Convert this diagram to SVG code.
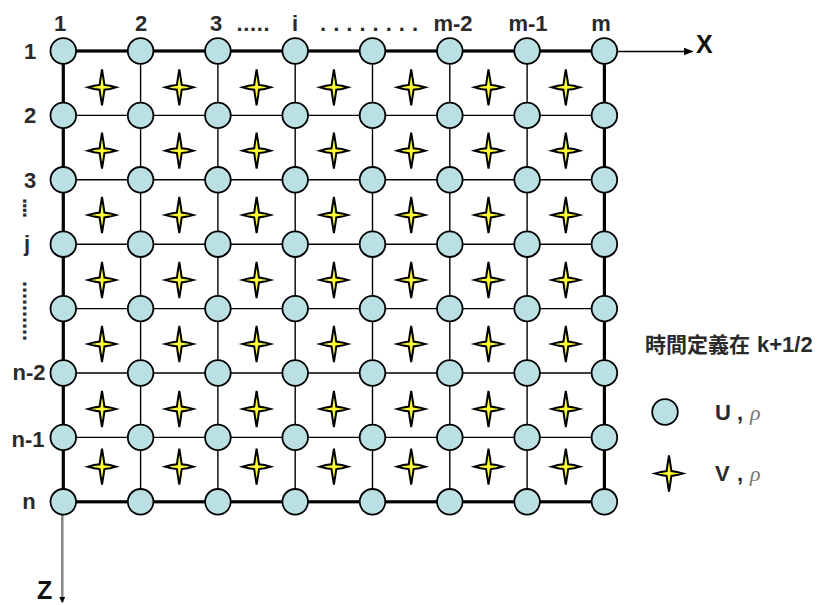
<svg xmlns="http://www.w3.org/2000/svg" xmlns:xlink="http://www.w3.org/1999/xlink" width="835" height="605" viewBox="0 0 835 605">
  <style>
    .lbl { font-family: "Liberation Sans", Arial, sans-serif; font-weight: bold; font-size: 22px; fill: #2a2a2a; }
    .mid { text-anchor: middle; }
    .axis { font-family: "Liberation Sans", Arial, sans-serif; font-weight: bold; font-size: 25px; fill: #111; }
    .cjk { font-family: "Liberation Sans", "Noto Sans CJK TC", sans-serif; font-weight: bold; font-size: 21px; fill: #2a2a2a; }
    .rho { font-family: "Liberation Serif", "DejaVu Serif", serif; font-style: italic; font-weight: normal; fill: #777; }
    .grid { stroke: #000; stroke-width: 1.4; fill: none; }
    .edge { stroke: #000; stroke-width: 3.2; fill: none; }
  </style>
  <defs>
    <!-- U, rho grid point -->
    <g id="unode">
      <circle r="12.8" fill="#bae0e3" stroke="#000" stroke-width="1.8"/>
    </g>
    <!-- V, rho half-cell point: four-pointed star -->
    <g id="vnode">
      <path d="M0,-18 L1.6,-8 L2.4,-2.4 L8,-1.6 L14,0 L8,1.6 L2.4,2.4 L1.6,8 L0,18 L-1.6,8 L-2.4,2.4 L-8,1.6 L-14,0 L-8,-1.6 L-2.4,-2.4 L-1.6,-8 Z" fill="#ffff33" stroke="#000" stroke-width="2" stroke-linejoin="miter"/>
    </g>
    <marker id="arrowX" markerWidth="10" markerHeight="8" refX="9" refY="4" orient="auto" markerUnits="userSpaceOnUse">
      <path d="M0,0 L10,4 L0,8 Z" fill="#000"/>
    </marker>
    <marker id="arrowZ" markerWidth="6" markerHeight="6" refX="5" refY="3" orient="auto" markerUnits="userSpaceOnUse">
      <path d="M0,0 L6,3 L0,6 Z" fill="#000"/>
    </marker>
  </defs>

  <rect width="835" height="605" fill="#fff"/>

  <!-- connectors: grid lines, boundary and axes -->
  <g id="connectors">
    <g class="grid">
      <line x1="63.3" y1="115.4" x2="604.4" y2="115.4"/>
      <line x1="63.3" y1="179.8" x2="604.4" y2="179.8"/>
      <line x1="63.3" y1="244.2" x2="604.4" y2="244.2"/>
      <line x1="63.3" y1="308.6" x2="604.4" y2="308.6"/>
      <line x1="63.3" y1="373" x2="604.4" y2="373"/>
      <line x1="63.3" y1="437.4" x2="604.4" y2="437.4"/>
      <line x1="140.6" y1="51" x2="140.6" y2="501.8"/>
      <line x1="217.9" y1="51" x2="217.9" y2="501.8"/>
      <line x1="295.2" y1="51" x2="295.2" y2="501.8"/>
      <line x1="372.5" y1="51" x2="372.5" y2="501.8"/>
      <line x1="449.8" y1="51" x2="449.8" y2="501.8"/>
      <line x1="527.1" y1="51" x2="527.1" y2="501.8"/>
    </g>
    <rect class="edge" x="63.3" y="51" width="541.1" height="450.8"/>
    <line x1="604.4" y1="51.5" x2="692.5" y2="51.5" stroke="#000" stroke-width="1.6" marker-end="url(#arrowX)"/>
    <line x1="62.3" y1="501.8" x2="62.3" y2="602" stroke="#8a8a8a" stroke-width="2.6" marker-end="url(#arrowZ)"/>
  </g>

  <!-- U, rho nodes (row r, column c) -->
  <g id="u-nodes">
    <g id="u-1-1"><use xlink:href="#unode" x="63.3" y="51"/></g>
    <g id="u-1-2"><use xlink:href="#unode" x="140.6" y="51"/></g>
    <g id="u-1-3"><use xlink:href="#unode" x="217.9" y="51"/></g>
    <g id="u-1-4"><use xlink:href="#unode" x="295.2" y="51"/></g>
    <g id="u-1-5"><use xlink:href="#unode" x="372.5" y="51"/></g>
    <g id="u-1-6"><use xlink:href="#unode" x="449.8" y="51"/></g>
    <g id="u-1-7"><use xlink:href="#unode" x="527.1" y="51"/></g>
    <g id="u-1-8"><use xlink:href="#unode" x="604.4" y="51"/></g>
    <g id="u-2-1"><use xlink:href="#unode" x="63.3" y="115.4"/></g>
    <g id="u-2-2"><use xlink:href="#unode" x="140.6" y="115.4"/></g>
    <g id="u-2-3"><use xlink:href="#unode" x="217.9" y="115.4"/></g>
    <g id="u-2-4"><use xlink:href="#unode" x="295.2" y="115.4"/></g>
    <g id="u-2-5"><use xlink:href="#unode" x="372.5" y="115.4"/></g>
    <g id="u-2-6"><use xlink:href="#unode" x="449.8" y="115.4"/></g>
    <g id="u-2-7"><use xlink:href="#unode" x="527.1" y="115.4"/></g>
    <g id="u-2-8"><use xlink:href="#unode" x="604.4" y="115.4"/></g>
    <g id="u-3-1"><use xlink:href="#unode" x="63.3" y="179.8"/></g>
    <g id="u-3-2"><use xlink:href="#unode" x="140.6" y="179.8"/></g>
    <g id="u-3-3"><use xlink:href="#unode" x="217.9" y="179.8"/></g>
    <g id="u-3-4"><use xlink:href="#unode" x="295.2" y="179.8"/></g>
    <g id="u-3-5"><use xlink:href="#unode" x="372.5" y="179.8"/></g>
    <g id="u-3-6"><use xlink:href="#unode" x="449.8" y="179.8"/></g>
    <g id="u-3-7"><use xlink:href="#unode" x="527.1" y="179.8"/></g>
    <g id="u-3-8"><use xlink:href="#unode" x="604.4" y="179.8"/></g>
    <g id="u-4-1"><use xlink:href="#unode" x="63.3" y="244.2"/></g>
    <g id="u-4-2"><use xlink:href="#unode" x="140.6" y="244.2"/></g>
    <g id="u-4-3"><use xlink:href="#unode" x="217.9" y="244.2"/></g>
    <g id="u-4-4"><use xlink:href="#unode" x="295.2" y="244.2"/></g>
    <g id="u-4-5"><use xlink:href="#unode" x="372.5" y="244.2"/></g>
    <g id="u-4-6"><use xlink:href="#unode" x="449.8" y="244.2"/></g>
    <g id="u-4-7"><use xlink:href="#unode" x="527.1" y="244.2"/></g>
    <g id="u-4-8"><use xlink:href="#unode" x="604.4" y="244.2"/></g>
    <g id="u-5-1"><use xlink:href="#unode" x="63.3" y="308.6"/></g>
    <g id="u-5-2"><use xlink:href="#unode" x="140.6" y="308.6"/></g>
    <g id="u-5-3"><use xlink:href="#unode" x="217.9" y="308.6"/></g>
    <g id="u-5-4"><use xlink:href="#unode" x="295.2" y="308.6"/></g>
    <g id="u-5-5"><use xlink:href="#unode" x="372.5" y="308.6"/></g>
    <g id="u-5-6"><use xlink:href="#unode" x="449.8" y="308.6"/></g>
    <g id="u-5-7"><use xlink:href="#unode" x="527.1" y="308.6"/></g>
    <g id="u-5-8"><use xlink:href="#unode" x="604.4" y="308.6"/></g>
    <g id="u-6-1"><use xlink:href="#unode" x="63.3" y="373"/></g>
    <g id="u-6-2"><use xlink:href="#unode" x="140.6" y="373"/></g>
    <g id="u-6-3"><use xlink:href="#unode" x="217.9" y="373"/></g>
    <g id="u-6-4"><use xlink:href="#unode" x="295.2" y="373"/></g>
    <g id="u-6-5"><use xlink:href="#unode" x="372.5" y="373"/></g>
    <g id="u-6-6"><use xlink:href="#unode" x="449.8" y="373"/></g>
    <g id="u-6-7"><use xlink:href="#unode" x="527.1" y="373"/></g>
    <g id="u-6-8"><use xlink:href="#unode" x="604.4" y="373"/></g>
    <g id="u-7-1"><use xlink:href="#unode" x="63.3" y="437.4"/></g>
    <g id="u-7-2"><use xlink:href="#unode" x="140.6" y="437.4"/></g>
    <g id="u-7-3"><use xlink:href="#unode" x="217.9" y="437.4"/></g>
    <g id="u-7-4"><use xlink:href="#unode" x="295.2" y="437.4"/></g>
    <g id="u-7-5"><use xlink:href="#unode" x="372.5" y="437.4"/></g>
    <g id="u-7-6"><use xlink:href="#unode" x="449.8" y="437.4"/></g>
    <g id="u-7-7"><use xlink:href="#unode" x="527.1" y="437.4"/></g>
    <g id="u-7-8"><use xlink:href="#unode" x="604.4" y="437.4"/></g>
    <g id="u-8-1"><use xlink:href="#unode" x="63.3" y="501.8"/></g>
    <g id="u-8-2"><use xlink:href="#unode" x="140.6" y="501.8"/></g>
    <g id="u-8-3"><use xlink:href="#unode" x="217.9" y="501.8"/></g>
    <g id="u-8-4"><use xlink:href="#unode" x="295.2" y="501.8"/></g>
    <g id="u-8-5"><use xlink:href="#unode" x="372.5" y="501.8"/></g>
    <g id="u-8-6"><use xlink:href="#unode" x="449.8" y="501.8"/></g>
    <g id="u-8-7"><use xlink:href="#unode" x="527.1" y="501.8"/></g>
    <g id="u-8-8"><use xlink:href="#unode" x="604.4" y="501.8"/></g>
  </g>

  <!-- V, rho nodes at the cell centres -->
  <g id="v-nodes">
    <g id="v-1-1"><use xlink:href="#vnode" x="102" y="87.3"/></g>
    <g id="v-1-2"><use xlink:href="#vnode" x="179.3" y="87.3"/></g>
    <g id="v-1-3"><use xlink:href="#vnode" x="256.6" y="87.3"/></g>
    <g id="v-1-4"><use xlink:href="#vnode" x="333.9" y="87.3"/></g>
    <g id="v-1-5"><use xlink:href="#vnode" x="411.2" y="87.3"/></g>
    <g id="v-1-6"><use xlink:href="#vnode" x="488.5" y="87.3"/></g>
    <g id="v-1-7"><use xlink:href="#vnode" x="565.8" y="87.3"/></g>
    <g id="v-2-1"><use xlink:href="#vnode" x="102" y="150.7"/></g>
    <g id="v-2-2"><use xlink:href="#vnode" x="179.3" y="150.7"/></g>
    <g id="v-2-3"><use xlink:href="#vnode" x="256.6" y="150.7"/></g>
    <g id="v-2-4"><use xlink:href="#vnode" x="333.9" y="150.7"/></g>
    <g id="v-2-5"><use xlink:href="#vnode" x="411.2" y="150.7"/></g>
    <g id="v-2-6"><use xlink:href="#vnode" x="488.5" y="150.7"/></g>
    <g id="v-2-7"><use xlink:href="#vnode" x="565.8" y="150.7"/></g>
    <g id="v-3-1"><use xlink:href="#vnode" x="102" y="215"/></g>
    <g id="v-3-2"><use xlink:href="#vnode" x="179.3" y="215"/></g>
    <g id="v-3-3"><use xlink:href="#vnode" x="256.6" y="215"/></g>
    <g id="v-3-4"><use xlink:href="#vnode" x="333.9" y="215"/></g>
    <g id="v-3-5"><use xlink:href="#vnode" x="411.2" y="215"/></g>
    <g id="v-3-6"><use xlink:href="#vnode" x="488.5" y="215"/></g>
    <g id="v-3-7"><use xlink:href="#vnode" x="565.8" y="215"/></g>
    <g id="v-4-1"><use xlink:href="#vnode" x="102" y="280"/></g>
    <g id="v-4-2"><use xlink:href="#vnode" x="179.3" y="280"/></g>
    <g id="v-4-3"><use xlink:href="#vnode" x="256.6" y="280"/></g>
    <g id="v-4-4"><use xlink:href="#vnode" x="333.9" y="280"/></g>
    <g id="v-4-5"><use xlink:href="#vnode" x="411.2" y="280"/></g>
    <g id="v-4-6"><use xlink:href="#vnode" x="488.5" y="280"/></g>
    <g id="v-4-7"><use xlink:href="#vnode" x="565.8" y="280"/></g>
    <g id="v-5-1"><use xlink:href="#vnode" x="102" y="344"/></g>
    <g id="v-5-2"><use xlink:href="#vnode" x="179.3" y="344"/></g>
    <g id="v-5-3"><use xlink:href="#vnode" x="256.6" y="344"/></g>
    <g id="v-5-4"><use xlink:href="#vnode" x="333.9" y="344"/></g>
    <g id="v-5-5"><use xlink:href="#vnode" x="411.2" y="344"/></g>
    <g id="v-5-6"><use xlink:href="#vnode" x="488.5" y="344"/></g>
    <g id="v-5-7"><use xlink:href="#vnode" x="565.8" y="344"/></g>
    <g id="v-6-1"><use xlink:href="#vnode" x="102" y="409"/></g>
    <g id="v-6-2"><use xlink:href="#vnode" x="179.3" y="409"/></g>
    <g id="v-6-3"><use xlink:href="#vnode" x="256.6" y="409"/></g>
    <g id="v-6-4"><use xlink:href="#vnode" x="333.9" y="409"/></g>
    <g id="v-6-5"><use xlink:href="#vnode" x="411.2" y="409"/></g>
    <g id="v-6-6"><use xlink:href="#vnode" x="488.5" y="409"/></g>
    <g id="v-6-7"><use xlink:href="#vnode" x="565.8" y="409"/></g>
    <g id="v-7-1"><use xlink:href="#vnode" x="102" y="466.7"/></g>
    <g id="v-7-2"><use xlink:href="#vnode" x="179.3" y="466.7"/></g>
    <g id="v-7-3"><use xlink:href="#vnode" x="256.6" y="466.7"/></g>
    <g id="v-7-4"><use xlink:href="#vnode" x="333.9" y="466.7"/></g>
    <g id="v-7-5"><use xlink:href="#vnode" x="411.2" y="466.7"/></g>
    <g id="v-7-6"><use xlink:href="#vnode" x="488.5" y="466.7"/></g>
    <g id="v-7-7"><use xlink:href="#vnode" x="565.8" y="466.7"/></g>
  </g>

  <!-- column indices -->
  <g id="col-labels" class="lbl mid">
    <text x="60" y="31">1</text>
    <text x="141" y="31">2</text>
    <text x="216" y="31">3</text>
    <text x="253" y="31" textLength="33" lengthAdjust="spacing">.....</text>
    <text x="295" y="31">i</text>
    <text x="369" y="31" textLength="98" lengthAdjust="spacing">. . . . . . . .</text>
    <text x="453" y="31">m-2</text>
    <text x="528" y="31">m-1</text>
    <text x="601" y="31">m</text>
  </g>

  <!-- row indices -->
  <g id="row-labels" class="lbl mid">
    <text x="30" y="58.5">1</text>
    <text x="30" y="123">2</text>
    <text x="30" y="187.5">3</text>
    <text class="lbl" style="text-anchor:start" transform="translate(23,198) rotate(90)" textLength="20" lengthAdjust="spacing">....</text>
    <text x="27" y="251">j</text>
    <text x="29" y="380">n-2</text>
    <text class="lbl" style="text-anchor:start" transform="translate(23,281) rotate(90)" textLength="60" lengthAdjust="spacing">..........</text>
    <text x="28" y="446.5">n-1</text>
    <text x="29" y="508.5">n</text>
  </g>

  <!-- axis names -->
  <text id="axis-x" class="axis" x="696" y="53">X</text>
  <text id="axis-z" class="axis" x="37" y="599">Z</text>

  <!-- legend -->
  <g id="legend">
    <text class="cjk" x="645" y="352">時間定義在</text>
    <text class="lbl" x="757" y="352">k+1/2</text>
    <g id="legend-u">
      <use xlink:href="#unode" x="665" y="412"/>
      <text class="lbl" x="715" y="420">U<tspan x="737">,</tspan><tspan class="rho" x="750">ρ</tspan></text>
    </g>
    <g id="legend-v">
      <use xlink:href="#vnode" x="669" y="473.5"/>
      <text class="lbl" x="715" y="481">V<tspan x="737">,</tspan><tspan class="rho" x="750">ρ</tspan></text>
    </g>
  </g>
</svg>
